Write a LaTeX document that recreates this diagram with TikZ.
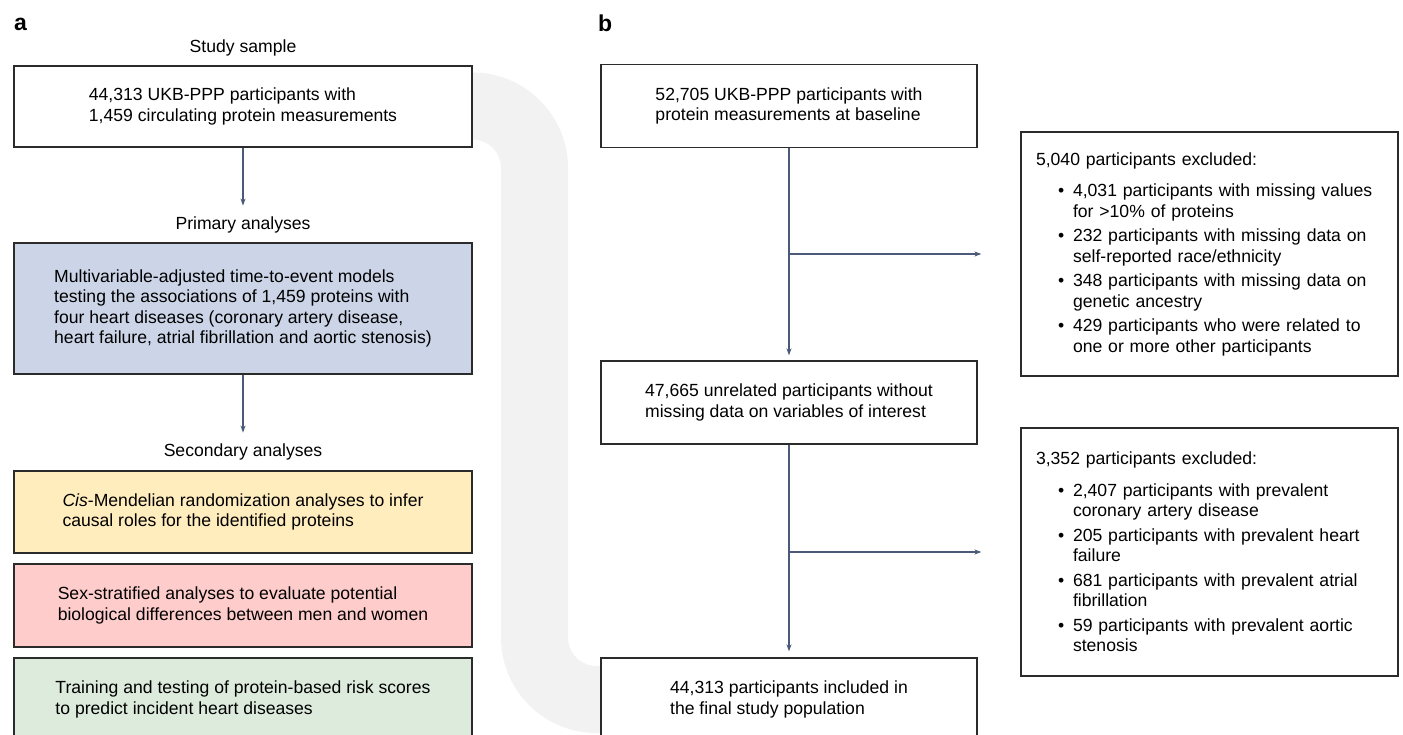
\documentclass[tikz,border=0pt]{standalone}
\usepackage{fontspec}
\setmainfont{Liberation Sans}
\usetikzlibrary{arrows.meta}

\definecolor{boxline}{HTML}{2B2B2B}
\definecolor{arrowslate}{HTML}{4A5A78}
\definecolor{bandgray}{HTML}{F2F2F2}
\definecolor{primblue}{HTML}{CCD5E8}
\definecolor{mryellow}{HTML}{FFEDBE}
\definecolor{sexpink}{HTML}{FFCCCC}
\definecolor{riskgreen}{HTML}{DDEBDC}

\newcommand{\bodyfont}{\fontsize{17.6}{20.5}\selectfont}
\newcommand{\exclitem}[2]{\hspace*{22pt}\makebox[15pt][l]{\textbullet}#1\\\hspace*{37pt}#2}

\tikzset{
  flowbox/.style={draw=boxline, line width=1.3pt, fill=white, align=left, font=\bodyfont, inner sep=0pt},
  leftbox/.style={flowbox, minimum width=458pt},
  rightbox/.style={flowbox, minimum width=376pt, minimum height=83pt},
  exclbox/.style={flowbox, minimum width=377pt, text width=347pt},
  steplabel/.style={font=\bodyfont, inner sep=0pt},
  panel/.style={font=\fontsize{23}{25}\selectfont\bfseries, inner sep=0pt, anchor=north west},
  flowarrow/.style={draw=arrowslate, line width=1.1pt, -{Stealth[length=7pt,width=5pt]}}
}

\begin{document}
\begin{tikzpicture}[x=1pt, y=-1pt]
  %%%%% START %%%%%
  \useasboundingbox (0,0) rectangle (1403,735);
  \clip (0,0) rectangle (1403,735);

  % grey band linking the two panels
  \draw[bandgray, line width=67pt, rounded corners=62pt]
    (440,106) -- (534.5,106) -- (534.5,699.5) -- (640,699.5);

  % panel a
  \node[panel] (pa) at (14,18) {a};
  \node[steplabel] (studylbl) at (243,48) {Study sample};
  \node[leftbox, minimum height=81pt] (study) at (243,106.5)
    {44,313 UKB-PPP participants with\\1,459 circulating protein measurements};
  \node[steplabel] (primlbl) at (243,225) {Primary analyses};
  \node[leftbox, fill=primblue, minimum height=131pt] (prim) at (243,308.5)
    {Multivariable-adjusted time-to-event models\\testing the associations of 1,459 proteins with\\four heart diseases (coronary artery disease,\\heart failure, atrial fibrillation and aortic stenosis)};
  \node[steplabel] (seclbl) at (243,452) {Secondary analyses};
  \node[leftbox, fill=mryellow, minimum height=82pt] (mr) at (243,512)
    {\textit{Cis}-Mendelian randomization analyses to infer\\causal roles for the identified proteins};
  \node[leftbox, fill=sexpink, minimum height=83pt] (sex) at (243,605.5)
    {Sex-stratified analyses to evaluate potential\\biological differences between men and women};
  \node[leftbox, fill=riskgreen, minimum height=83pt] (risk) at (243,699.5)
    {Training and testing of protein-based risk scores\\to predict incident heart diseases};

  \draw[flowarrow, shorten >=11pt] (study.south) -- (primlbl.north);
  \draw[flowarrow, shorten >=11pt] (prim.south) -- (seclbl.north);

  % panel b
  \node[panel] (pb) at (598,15) {b};
  \node[rightbox] (base) at (789,106)
    {52,705 UKB-PPP participants with\\protein measurements at baseline};
  \node[rightbox] (unrel) at (789,402.5)
    {47,665 unrelated participants without\\missing data on variables of interest};
  \node[rightbox] (final) at (789,699.5)
    {44,313 participants included in\\the final study population};

  \node[exclbox, minimum height=244pt] (excl1) at (1209.5,254)
    {5,040 participants excluded:\\[11pt]
     \exclitem{4,031 participants with missing values}{for >10\% of proteins}\\[4pt]
     \exclitem{232 participants with missing data on}{self-reported race/ethnicity}\\[4pt]
     \exclitem{348 participants with missing data on}{genetic ancestry}\\[4pt]
     \exclitem{429 participants who were related to}{one or more other participants}};
  \node[exclbox, minimum height=248pt] (excl2) at (1209.5,552)
    {3,352 participants excluded:\\[11pt]
     \exclitem{2,407 participants with prevalent}{coronary artery disease}\\[4pt]
     \exclitem{205 participants with prevalent heart}{failure}\\[4pt]
     \exclitem{681 participants with prevalent atrial}{fibrillation}\\[4pt]
     \exclitem{59 participants with prevalent aortic}{stenosis}};

  \draw[flowarrow, shorten >=5pt] (base.south) -- (unrel.north);
  \draw[flowarrow, shorten >=6pt] (unrel.south) -- (final.north);
  \draw[flowarrow] (base.south |- excl1.west) -- ([xshift=-39pt]excl1.west);
  \draw[flowarrow] (unrel.south |- excl2.west) -- ([xshift=-39pt]excl2.west);
  %%%%% END %%%%%
\end{tikzpicture}
\end{document}
